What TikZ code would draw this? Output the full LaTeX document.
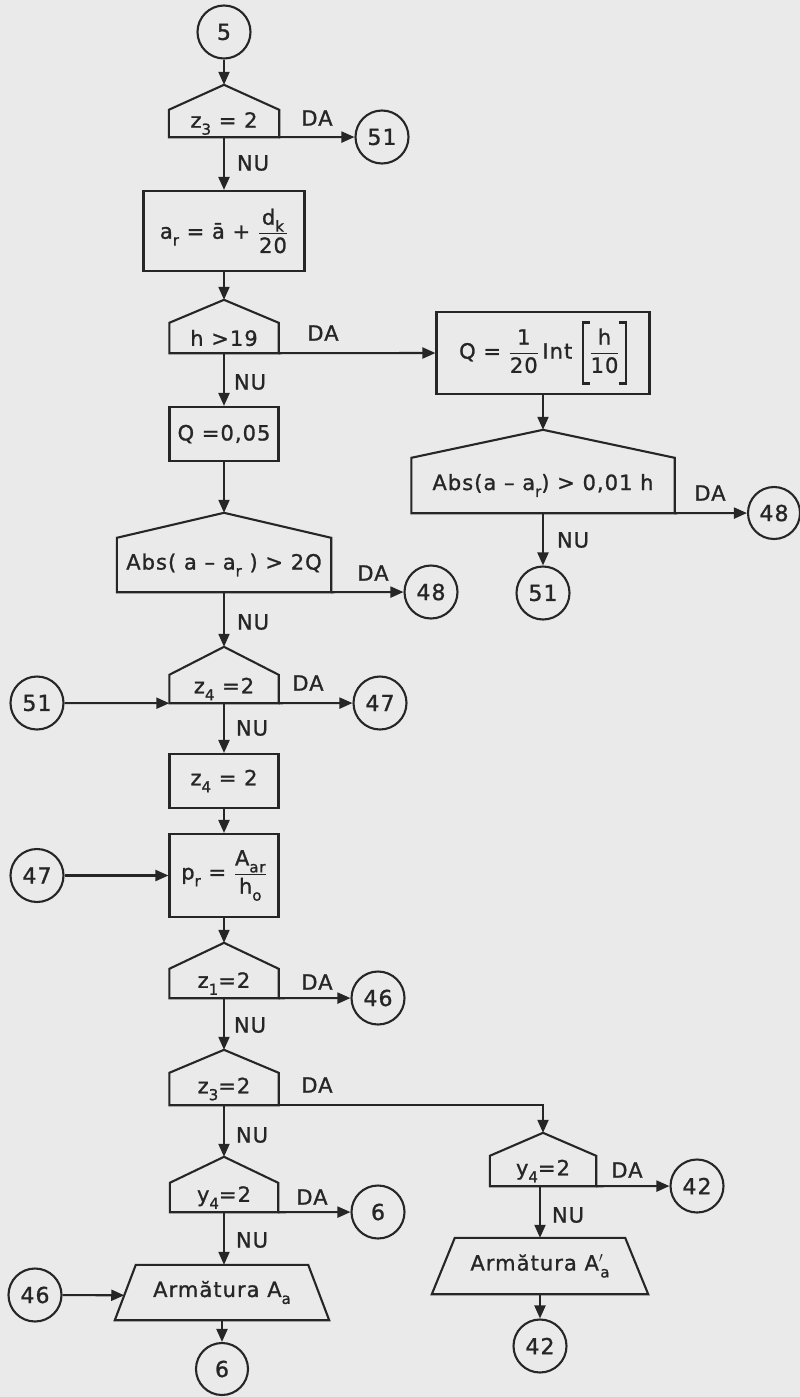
\documentclass[tikz,border=0pt]{standalone}
\usepackage{fontspec}
\setmainfont{DejaVu Sans}[LetterSpace=5,FakeBold=1.2]
\usetikzlibrary{arrows.meta,calc}
\definecolor{ink}{RGB}{38,38,38}
\definecolor{paper}{RGB}{234,234,234}
\newcommand\lo[1]{\raisebox{-0.6ex}{\fontsize{15}{15}\selectfont #1}}
\newcommand\fr[2]{$\displaystyle\frac{\mbox{#1}}{\mbox{#2}}$}
\newcommand\lbrk{\rlap{\rule[-26pt]{8pt}{2.2pt}}\rlap{\rule[35pt]{8pt}{2.2pt}}\rule[-26pt]{2.2pt}{63pt}}
\newcommand\rbrk{\rule[-26pt]{2.2pt}{63pt}\llap{\rule[-26pt]{8pt}{2.2pt}}\llap{\rule[35pt]{8pt}{2.2pt}}}
\newcommand\house[2]{%
  \coordinate (#1top) at ([yshift=#2]#1.north);
  \draw[shapeline] (#1.south west) -- (#1.north west) -- (#1top) -- (#1.north east) -- (#1.south east) -- cycle;}
\newcommand\trap[2]{%
  \draw[shapeline] ([xshift=-#2]#1.south west) -- (#1.north west) -- (#1.north east) -- ([xshift=#2]#1.south east) -- cycle;}
\begin{document}
\begin{tikzpicture}[x=1pt,y=-1pt,
  font=\fontsize{21}{25}\selectfont,
  shapeline/.style={draw=ink,line width=2.1pt,line join=miter},
  conn/.style={draw=ink,line width=2.1pt,-{Triangle[length=13pt,width=11pt]}},
  circ/.style={circle,draw=ink,line width=2.1pt,minimum size=53pt,inner sep=0pt,text=ink,font=\fontsize{22}{26}\selectfont},
  box/.style={rectangle,draw=ink,line width=2.1pt,inner sep=0pt,text=ink},
  body/.style={rectangle,inner sep=0pt,text=ink},
  lbl/.style={inner sep=0pt,text=ink}]
\fill[paper] (0,0) rectangle (800,1397);
\useasboundingbox (0,0) rectangle (800,1397);

% ---------- left column ----------
\node[circ] (c5) at (224,32) {5};
\node[body,minimum width=110pt,minimum height=27pt] (d1) at (224,123.5) {z\lo{3} = 2};
\house{d1}{25pt}
\node[circ] (c51a) at (382,137) {51};
\node[lbl] (l1) at (317,118) {DA};
\node[lbl] (l2) at (253,163) {NU};
\node[box,minimum width=161pt,minimum height=80pt] (r1) at (224,231) {a\lo{r} = ā + \fr{d\lo{k}}{20}};
\node[body,minimum width=109pt,minimum height=30pt] (d2) at (224,338) {h >19};
\house{d2}{23pt}
\node[lbl] (l3) at (323,333) {DA};
\node[lbl] (l4) at (250,382) {NU};
\node[box,minimum width=109pt,minimum height=54pt] (q1) at (224,434) {Q =0,05};
\node[body,minimum width=214pt,minimum height=54pt] (d3) at (224,565) {Abs( a – a\lo{r} ) > 2Q};
\house{d3}{25pt}
\node[lbl] (l5) at (373,573) {DA};
\node[circ] (c48a) at (431,592) {48};
\node[lbl] (l6) at (253,622) {NU};
\node[body,minimum width=109pt,minimum height=28pt] (d4) at (224,689) {z\lo{4} =2};
\house{d4}{28pt}
\node[circ] (c51b) at (37,703) {51};
\node[lbl] (l7) at (308,683) {DA};
\node[circ] (c47a) at (380,703) {47};
\node[lbl] (l8) at (252,728) {NU};
\node[box,minimum width=109pt,minimum height=54pt] (r3) at (224,781) {z\lo{4} = 2};
\node[box,minimum width=109pt,minimum height=83pt] (r4) at (224,875.5) {p\lo{r} = \fr{A\lo{ar}}{h\lo{o}}};
\node[circ] (c47b) at (37,875.5) {47};
\node[body,minimum width=109pt,minimum height=29pt] (d5) at (224,983.5) {z\lo{1}=2};
\house{d5}{26pt}
\node[lbl] (l9) at (317,982) {DA};
\node[circ] (c46a) at (378,998) {46};
\node[lbl] (l10) at (250,1025) {NU};
\node[body,minimum width=109pt,minimum height=32pt] (d6) at (224,1089) {z\lo{3}=2};
\house{d6}{23pt}
\node[lbl] (l11) at (317,1085) {DA};
\node[lbl] (l12) at (252,1135) {NU};
\node[body,minimum width=108pt,minimum height=29pt] (d7) at (224,1197.5) {y\lo{4}=2};
\house{d7}{26pt}
\node[lbl] (l13) at (312,1197) {DA};
\node[circ] (c6a) at (378,1212) {6};
\node[lbl] (l14) at (252,1240) {NU};
\node[body,minimum width=172pt,minimum height=55pt] (t1) at (222,1292.5) {Armătura A\lo{a}};
\trap{t1}{21pt}
\coordinate (t1in) at ($(t1.north west)!0.55!([xshift=-21pt]t1.south west)$);
\node[circ] (c46b) at (35,1295) {46};
\node[circ,minimum size=52pt] (c6b) at (222,1369) {6};

% ---------- right column ----------
\node[box,minimum width=213pt,minimum height=82pt] (r2) at (543,353) {Q = \fr{1}{20}\,Int\hspace{10pt}\lbrk\hspace{5pt}\fr{h}{10}\hspace{5pt}\rbrk};
\node[body,minimum width=263pt,minimum height=55pt] (d9) at (543,485.5) {Abs(a – a\lo{r}) > 0,01 h};
\house{d9}{28pt}
\node[lbl] (l15) at (710,493) {DA};
\node[circ,minimum size=52pt] (c48b) at (774,513) {48};
\node[lbl] (l16) at (573,540) {NU};
\node[circ] (c51c) at (543,593) {51};
\node[body,minimum width=106pt,minimum height=30pt] (d8) at (543,1171) {y\lo{4}=2};
\house{d8}{23pt}
\node[lbl] (l17) at (627,1170) {DA};
\node[circ] (c42a) at (697,1186) {42};
\node[lbl] (l18) at (568,1215) {NU};
\node[body,minimum width=170pt,minimum height=56pt] (t2) at (540,1266) {Armătura A$'$\hspace{-3pt}\lo{a}};
\trap{t2}{23pt}
\node[circ] (c42b) at (540,1346) {42};

% ---------- connectors ----------
\draw[conn] (c5) -- (d1top);
\draw[conn] (d1.south east) -- (c51a);
\draw[conn] (d1.south) -- (r1.north);
\draw[conn] (r1.south) -- (d2top);
\draw[conn] (d2.south east) -- (r2.west);
\draw[conn] (d2.south) -- (q1.north);
\draw[conn] (q1.south) -- (d3top);
\draw[conn] (d3.south east) -- (c48a);
\draw[conn] (d3.south) -- (d4top);
\draw[conn] (c51b) -- (d4.south west);
\draw[conn] (d4.south east) -- (c47a);
\draw[conn] (d4.south) -- (r3.north);
\draw[conn] (r3.south) -- (r4.north);
\draw[conn] (c47b) -- (r4.west);
\draw[conn] (r4.south) -- (d5top);
\draw[conn] (d5.south east) -- (c46a);
\draw[conn] (d5.south) -- (d6top);
\draw[conn] (d6.south east) -| (d8top);
\draw[conn] (d6.south) -- (d7top);
\draw[conn] (d7.south east) -- (c6a);
\draw[conn] (d7.south) -- (t1.north -| d7.south);
\draw[conn] (c46b) -- (t1in);
\draw[conn] (t1.south -| c6b) -- (c6b);
\draw[conn] (r2.south) -- (d9top);
\draw[conn] (d9.south east) -- (c48b);
\draw[conn] (d9.south) -- (c51c);
\draw[conn] (d8.south east) -- (c42a);
\draw[conn] (d8.south -| t2.north) -- (t2.north);
\draw[conn] (t2.south) -- (c42b);
\end{tikzpicture}
\end{document}
